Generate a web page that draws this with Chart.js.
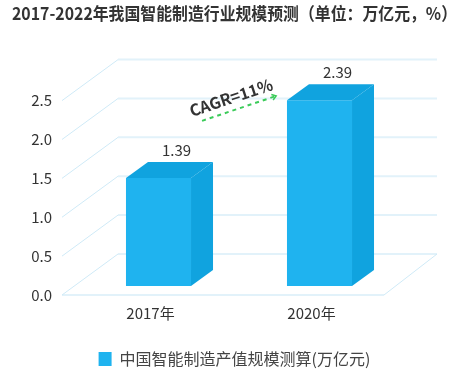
<!DOCTYPE html>
<html>
<head>
<meta charset="utf-8">
<script src="https://cdn.jsdelivr.net/npm/chart.js@4/dist/chart.umd.min.js"></script>
<style>
html,body{margin:0;padding:0;background:#fff;}
canvas{display:block;}
</style>
</head>
<body>
<canvas id="c" width="457" height="377"></canvas>
<script>
// ---- data ----
const categories = ['2017年', '2020年'];
const values = [1.39, 2.39];
const yTickValues = [0, 0.5, 1.0, 1.5, 2.0, 2.5];
const seriesName = '中国智能制造产值规模测算(万亿元)';
const titleText = '2017-2022年我国智能制造行业规模预测（单位：万亿元，%）';
const cagrText = 'CAGR=11%';
// CAGR arrow anchors in data space: [category index, value]
const cagrStart = [0.37, 2.24];
const cagrEnd = [0.83, 2.56];
const cagrLabelPos = [0.55, 2.54];

// ---- style ----
const FONT = '"Noto Sans CJK SC", "Noto Sans", sans-serif';
const FRONT = '#1fb3ef';
const SIDE = '#10a3df';
const GRID_H = '#e2f2fa';
const GRID_D = '#cfeaf7';
const FLOOR_DX = 56, FLOOR_DY = -41;   // wall depth
const BAR_SHIFT_X = 16, BAR_SHIFT_Y = -9; // bar front plane offset
const BAR_DX = 22, BAR_DY = -16;       // bar depth

const threeD = {
  id: 'threeD',
  beforeDatasetsDraw(chart) {
    const {ctx, chartArea, scales} = chart;
    const ys = scales.y;
    const L = chartArea.left, R = chartArea.right;
    ctx.save();
    ctx.strokeStyle = GRID_H;
    ctx.lineWidth = 2;
    yTickValues.forEach(v => {
      const y = ys.getPixelForValue(v);
      ctx.beginPath();
      ctx.moveTo(L + FLOOR_DX, y + FLOOR_DY);
      ctx.lineTo(R + FLOOR_DX - 3, y + FLOOR_DY);
      ctx.stroke();
    });
    const y0 = ys.getPixelForValue(0);
    ctx.beginPath();
    ctx.moveTo(L, y0);
    ctx.lineTo(R, y0);
    ctx.stroke();
    ctx.strokeStyle = GRID_D;
    ctx.lineWidth = 1;
    yTickValues.forEach(v => {
      const y = ys.getPixelForValue(v);
      ctx.beginPath();
      ctx.moveTo(L, y);
      ctx.lineTo(L + FLOOR_DX, y + FLOOR_DY);
      ctx.stroke();
    });
    ctx.beginPath();
    ctx.moveTo(R, y0);
    ctx.lineTo(R + FLOOR_DX - 3, y0 + FLOOR_DY);
    ctx.stroke();
    ctx.restore();
    ctx.save();
    ctx.translate(BAR_SHIFT_X, BAR_SHIFT_Y);
  },
  afterDatasetsDraw(chart) {
    const {ctx, scales} = chart;
    ctx.restore();
    const meta = chart.getDatasetMeta(0);
    ctx.save();
    meta.data.forEach((el, i) => {
      const p = el.getProps(['x', 'y', 'base', 'width'], true);
      const x0 = p.x - p.width / 2 + BAR_SHIFT_X;
      const x1 = p.x + p.width / 2 + BAR_SHIFT_X;
      const top = p.y + BAR_SHIFT_Y;
      const base = p.base + BAR_SHIFT_Y;
      ctx.fillStyle = SIDE;
      ctx.beginPath();
      ctx.moveTo(x0, top);
      ctx.lineTo(x1, top);
      ctx.lineTo(x1 + BAR_DX, top + BAR_DY);
      ctx.lineTo(x0 + BAR_DX, top + BAR_DY);
      ctx.closePath();
      ctx.fill();
      ctx.beginPath();
      ctx.moveTo(x1, top);
      ctx.lineTo(x1 + BAR_DX, top + BAR_DY);
      ctx.lineTo(x1 + BAR_DX, base + BAR_DY);
      ctx.lineTo(x1, base);
      ctx.closePath();
      ctx.fill();
      ctx.fillStyle = '#333';
      ctx.font = '15px ' + FONT;
      ctx.textAlign = 'center';
      ctx.textBaseline = 'middle';
      ctx.fillText(values[i].toFixed(2), (x0 + x1) / 2 + 18, top + BAR_DY - 12);
    });
    const xs = scales.x, ys = scales.y;
    const sx = xs.getPixelForValue(cagrStart[0]), sy = ys.getPixelForValue(cagrStart[1]);
    const ex = xs.getPixelForValue(cagrEnd[0]), ey = ys.getPixelForValue(cagrEnd[1]);
    const ang = Math.atan2(ey - sy, ex - sx);
    ctx.strokeStyle = '#3ccb5a';
    ctx.lineWidth = 2;
    ctx.setLineDash([4, 4]);
    ctx.beginPath();
    ctx.moveTo(sx, sy);
    ctx.lineTo(ex, ey);
    ctx.stroke();
    ctx.setLineDash([]);
    ctx.lineWidth = 1.5;
    ctx.beginPath();
    ctx.moveTo(ex - 5 * Math.cos(ang - 0.6), ey - 5 * Math.sin(ang - 0.6));
    ctx.lineTo(ex, ey);
    ctx.lineTo(ex - 5 * Math.cos(ang + 0.6), ey - 5 * Math.sin(ang + 0.6));
    ctx.stroke();
    const tx = xs.getPixelForValue(cagrLabelPos[0]), ty = ys.getPixelForValue(cagrLabelPos[1]);
    ctx.translate(tx, ty);
    ctx.rotate(ang);
    ctx.fillStyle = '#333';
    ctx.font = 'bold 16px ' + FONT;
    ctx.textAlign = 'center';
    ctx.textBaseline = 'middle';
    ctx.fillText(cagrText, 0, 0);
    ctx.restore();
  }
};

new Chart(document.getElementById('c'), {
  type: 'bar',
  data: {
    labels: categories,
    datasets: [{
      label: seriesName,
      data: values,
      backgroundColor: FRONT,
      borderWidth: 0,
      barPercentage: 0.404,
      categoryPercentage: 1
    }]
  },
  options: {
    responsive: false,
    animation: false,
    devicePixelRatio: 1,
    layout: { padding: { left: 12, right: 0, top: 0, bottom: 0 } },
    plugins: {
      title: {
        display: true,
        text: titleText,
        color: '#333',
        font: { family: FONT, size: 17.6, weight: 'bold' },
        padding: { top: 3, bottom: 76.5 }
      },
      legend: {
        position: 'bottom',
        labels: {
          boxWidth: 13,
          boxHeight: 14,
          color: '#444',
          font: { family: FONT, size: 16 },
          padding: 10
        }
      },
      tooltip: { enabled: false }
    },
    scales: {
      x: {
        grid: { display: false, drawTicks: false },
        border: { display: false },
        ticks: { color: '#333', font: { family: FONT, size: 15 }, padding: 9, labelOffset: 8 },
        afterFit(s) { s.height = 46; }
      },
      y: {
        min: 0, max: 2.5,
        grid: { display: false, drawTicks: false },
        border: { display: false },
        ticks: {
          stepSize: 0.5,
          color: '#333',
          font: { family: FONT, size: 15 },
          padding: 10,
          callback: v => Number(v).toFixed(1)
        },
        afterFit(s) { s.width = 50; }
      },
      y2: {
        position: 'right',
        min: 0, max: 2.5,
        grid: { display: false, drawTicks: false },
        border: { display: false },
        ticks: { display: false },
        afterFit(s) { s.width = 73; }
      }
    }
  },
  plugins: [threeD]
});
</script>
</body>
</html>
